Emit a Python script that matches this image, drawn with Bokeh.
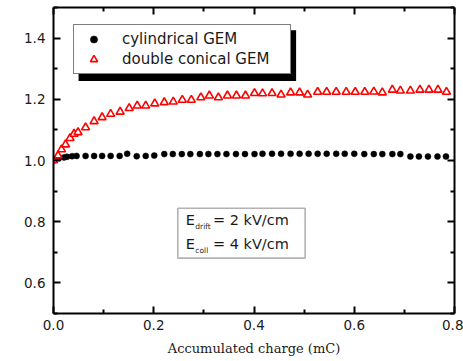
import math

from bokeh.embed import file_html
from bokeh.models import (BoxAnnotation, ColumnDataSource, FixedTicker, Label,
                          Legend, LegendItem, LinearAxis, PrintfTickFormatter,
                          Range1d)
from bokeh.plotting import figure
from bokeh.resources import INLINE

# Accumulated charge (mC) and relative gain for the cylindrical GEM
cyl_charge = [0.0, 0.011, 0.021, 0.027, 0.037, 0.046, 0.064, 0.081, 0.097, 0.114,
              0.132, 0.147, 0.166, 0.184, 0.201, 0.221, 0.238, 0.256, 0.273, 0.292,
              0.309, 0.327, 0.345, 0.364, 0.382, 0.401, 0.417, 0.436, 0.454, 0.473,
              0.491, 0.509, 0.527, 0.545, 0.564, 0.581, 0.600, 0.620, 0.639, 0.656,
              0.676, 0.692, 0.712, 0.729, 0.747, 0.766, 0.783]
cyl_gain = [1.0, 1.008, 1.010, 1.012, 1.014, 1.015, 1.015, 1.015, 1.015, 1.015,
            1.015, 1.022, 1.014, 1.015, 1.016, 1.021, 1.021, 1.021, 1.021, 1.021,
            1.021, 1.021, 1.021, 1.021, 1.021, 1.021, 1.022, 1.022, 1.022, 1.022,
            1.022, 1.022, 1.022, 1.022, 1.022, 1.022, 1.022, 1.021, 1.021, 1.021,
            1.021, 1.021, 1.013, 1.013, 1.013, 1.013, 1.013]

# Accumulated charge (mC) and relative gain for the double conical GEM
con_charge = [0.0, 0.009, 0.016, 0.024, 0.033, 0.041, 0.049, 0.064, 0.081, 0.097,
              0.114, 0.133, 0.151, 0.167, 0.184, 0.202, 0.221, 0.239, 0.257, 0.275,
              0.294, 0.311, 0.329, 0.347, 0.365, 0.383, 0.401, 0.417, 0.436, 0.454,
              0.473, 0.491, 0.507, 0.527, 0.545, 0.564, 0.584, 0.602, 0.621, 0.639,
              0.656, 0.676, 0.692, 0.712, 0.731, 0.749, 0.767, 0.784]
con_gain = [1.0, 1.016, 1.036, 1.052, 1.073, 1.087, 1.092, 1.108, 1.128, 1.141,
            1.152, 1.159, 1.171, 1.179, 1.179, 1.186, 1.190, 1.192, 1.198, 1.198,
            1.206, 1.212, 1.206, 1.212, 1.212, 1.212, 1.220, 1.219, 1.220, 1.215,
            1.222, 1.222, 1.215, 1.224, 1.224, 1.224, 1.224, 1.224, 1.224, 1.225,
            1.222, 1.231, 1.228, 1.228, 1.231, 1.231, 1.231, 1.224]

series_names = ["cylindrical GEM", "double conical GEM"]
x_title = "Accumulated charge (mC)"
y_title = "Relative Gain"
field_lines = [("drift", "= 2 kV/cm"), ("coll", "= 4 kV/cm")]

# Tick positions shared by the labelled and the mirrored (unlabelled) axes
x_major = [0.0, 0.2, 0.4, 0.6, 0.8]
x_minor = [0.1, 0.3, 0.5, 0.7]
y_major = [0.6, 0.8, 1.0, 1.2, 1.4]
y_minor = [0.5, 0.7, 0.9, 1.1, 1.3, 1.5]

SANS = "DejaVu Sans"
SERIF = "DejaVu Serif"

p = figure(width=463, height=361, output_backend="svg", toolbar_location=None,
           x_range=Range1d(0.0, 0.8), y_range=Range1d(0.5, 1.5),
           x_axis_location=None, y_axis_location=None,
           min_border_left=53, min_border_right=9, min_border_top=7,
           min_border_bottom=48)
p.outline_line_color = None
p.xgrid.visible = False
p.ygrid.visible = False
p.background_fill_color = "white"
p.border_fill_color = "white"


def style_ticks(ax):
    ax.axis_line_width = 2
    ax.axis_line_color = "black"
    ax.major_tick_in = 7
    ax.major_tick_out = 0
    ax.minor_tick_in = 4
    ax.minor_tick_out = 0
    ax.major_tick_line_width = 2
    ax.minor_tick_line_width = 2
    ax.major_tick_line_color = "black"
    ax.minor_tick_line_color = "black"
    return ax


def labelled_axis(major, minor):
    ax = LinearAxis(ticker=FixedTicker(ticks=major, minor_ticks=minor),
                    formatter=PrintfTickFormatter(format="%.1f"))
    style_ticks(ax)
    ax.major_label_text_font = SANS
    ax.major_label_text_font_size = "13.5px"
    ax.major_label_text_color = "#1a1a1a"
    return ax


def mirror_axes(major, minor):
    # Ticks only: major ticks are drawn as long "minor" ticks so no labels appear
    long_ticks = style_ticks(LinearAxis(ticker=FixedTicker(ticks=[], minor_ticks=major)))
    long_ticks.minor_tick_in = 7
    short_ticks = style_ticks(LinearAxis(ticker=FixedTicker(ticks=[], minor_ticks=minor)))
    short_ticks.axis_line_color = None
    return long_ticks, short_ticks


bottom = labelled_axis(x_major, x_minor)
bottom.major_label_standoff = 6
bottom.axis_label = x_title
bottom.axis_label_text_font = SERIF
bottom.axis_label_text_font_style = "normal"
bottom.axis_label_text_font_size = "13px"
bottom.axis_label_text_color = "#1a1a1a"
bottom.axis_label_standoff = 8
p.add_layout(bottom, "below")

left = labelled_axis(y_major, y_minor)
left.major_label_standoff = 8
p.add_layout(left, "left")

for ax in mirror_axes(x_major, x_minor):
    p.add_layout(ax, "above")
for ax in mirror_axes(y_major, y_minor):
    p.add_layout(ax, "right")

# Vertical axis title, placed in frame-relative screen units
p.add_layout(Label(x=-37, y=143, x_units="screen", y_units="screen", text=y_title,
                   angle=math.pi / 2, text_align="center", text_baseline="middle",
                   text_font=SERIF, text_font_size="13px", text_color="#1a1a1a"))

cyl_src = ColumnDataSource(dict(x=cyl_charge, y=cyl_gain))
con_src = ColumnDataSource(dict(x=con_charge, y=con_gain))

r_cyl = p.scatter("x", "y", source=cyl_src, marker="circle", size=6,
                  fill_color="black", line_color="black", line_width=0.5)
r_con = p.scatter("x", "y", source=con_src, marker="triangle", size=8,
                  fill_color="white", line_color="red", line_width=1.6)

# Drop shadow behind the legend box
p.add_layout(BoxAnnotation(left=0.050, right=0.484, top=1.426, bottom=1.260,
                           fill_color="black", fill_alpha=1.0, line_color=None))

legend = Legend(items=[LegendItem(label=series_names[0], renderers=[r_cyl]),
                       LegendItem(label=series_names[1], renderers=[r_con])],
                location=(20, 239), orientation="vertical",
                label_text_font=SANS, label_text_font_size="15px",
                label_text_color="#1a1a1a",
                glyph_width=29, glyph_height=18, label_height=18, label_width=163,
                label_standoff=14, spacing=2, padding=5, margin=0,
                border_line_color="black", border_line_width=1.6,
                background_fill_color="white", background_fill_alpha=1.0)
p.add_layout(legend, "center")

# Box with the field settings
p.add_layout(BoxAnnotation(left=0.248, right=0.502, top=0.844, bottom=0.681,
                           fill_color="white", fill_alpha=1.0, line_color="black",
                           line_width=1.6))

line_y = [0.805, 0.727]
sub_y = [0.784, 0.707]
for (sub, rest), ym, ys in zip(field_lines, line_y, sub_y):
    p.add_layout(Label(x=0.264, y=ym, text="E", text_font=SANS,
                       text_font_size="14.5px", text_baseline="middle",
                       text_color="#1a1a1a"))
    p.add_layout(Label(x=0.283, y=ys, text=sub, text_font=SANS,
                       text_font_size="7.5px", text_baseline="middle",
                       text_color="#1a1a1a"))
    p.add_layout(Label(x=0.318, y=ym, text=rest, text_font=SANS,
                       text_font_size="14.5px", text_baseline="middle",
                       text_color="#1a1a1a"))

open("out.html", "w").write(file_html(p, INLINE))
